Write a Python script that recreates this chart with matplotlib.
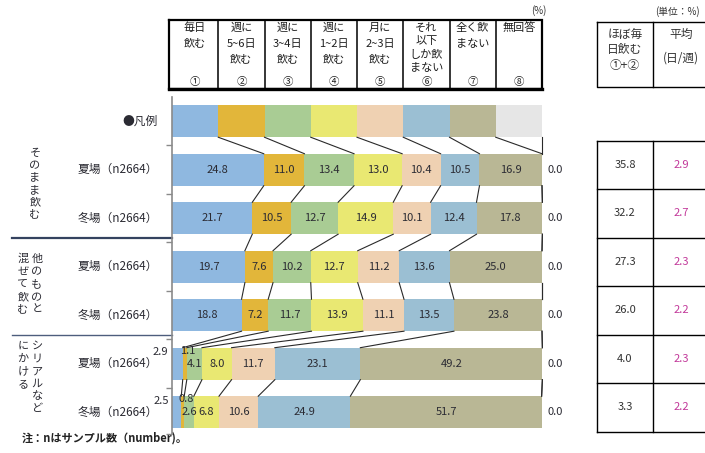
import matplotlib
matplotlib.use("Agg")
import matplotlib.pyplot as plt
from matplotlib import transforms
import numpy as np

plt.rcParams['font.family'] = ['Noto Sans CJK JP', 'DejaVu Sans']

# ---- data -------------------------------------------------------------
answer_labels = [
    ["毎日", "飲む"],
    ["週に", "5~6日", "飲む"],
    ["週に", "3~4日", "飲む"],
    ["週に", "1~2日", "飲む"],
    ["月に", "2~3日", "飲む"],
    ["それ", "以下", "しか飲", "まない"],
    ["全く飲", "まない"],
    ["無回答"],
]
answer_numbers = ["①", "②", "③", "④", "⑤", "⑥", "⑦", "⑧"]

row_labels = ["●凡例", "夏場（n2664）", "冬場（n2664）", "夏場（n2664）",
              "冬場（n2664）", "夏場（n2664）", "冬場（n2664）"]

legend_widths = [12.5, 12.5, 12.5, 12.5, 12.5, 12.5, 12.5, 12.5]
summer_plain = [24.8, 11.0, 13.4, 13.0, 10.4, 10.5, 16.9, 0.0]
winter_plain = [21.7, 10.5, 12.7, 14.9, 10.1, 12.4, 17.8, 0.0]
summer_mixed = [19.7, 7.6, 10.2, 12.7, 11.2, 13.6, 25.0, 0.0]
winter_mixed = [18.8, 7.2, 11.7, 13.9, 11.1, 13.5, 23.8, 0.0]
summer_cereal = [2.9, 1.1, 4.1, 8.0, 11.7, 23.1, 49.2, 0.0]
winter_cereal = [2.5, 0.8, 2.6, 6.8, 10.6, 24.9, 51.7, 0.0]

almost_daily = [35.8, 32.2, 27.3, 26.0, 4.0, 3.3]   # ①+②
avg_days = [2.9, 2.7, 2.3, 2.2, 2.3, 2.2]          # days / week

seg_colors = ["#8fb8e0", "#e2b63a", "#a9cc94", "#e9e872",
              "#efd1b2", "#9bbfd3", "#b9b795", "#e6e6e6"]

rows = [legend_widths, summer_plain, winter_plain, summer_mixed,
        winter_mixed, summer_cereal, winter_cereal]

# ---- figure & axes ----------------------------------------------------
W, H = 705, 453
fig = plt.figure(figsize=(W / 100, H / 100), dpi=100)
fig.patch.set_facecolor("white")

# overlay in pixel units for the framing elements
ov = fig.add_axes([0, 0, 1, 1])
ov.set_xlim(0, W)
ov.set_ylim(H, 0)
ov.axis("off")
ov.patch.set_visible(False)

ax = fig.add_axes([172 / W, 1 - 434 / H, 370 / W, 337 / H])
ax.patch.set_visible(False)
ax.set_xlim(0, 100)
ax.set_ylim(6.45, -0.5)

BAR_H = 0.66
TXT = "#2b2b33"

# x in percent / y in pixels, and x in pixels / y in rows
bx = transforms.blended_transform_factory(ax.transData, ov.transData)
by = transforms.blended_transform_factory(ov.transData, ax.transData)

# ---- stacked bars -----------------------------------------------------
for i, vals in enumerate(rows):
    vals = np.asarray(vals)
    left = np.concatenate([[0.0], np.cumsum(vals)[:-1]])
    ax.barh(i, vals, left=left, height=BAR_H, color=seg_colors,
            linewidth=0, clip_on=False, zorder=2)

# connector lines between consecutive bars
for i in range(len(rows) - 1):
    c0 = np.cumsum(rows[i])
    c1 = np.cumsum(rows[i + 1])
    for k in range(len(c0)):
        ax.plot([c0[k], c1[k]], [i + BAR_H / 2, i + 1 - BAR_H / 2],
                color="#2a2a2a", lw=0.8, clip_on=False, zorder=3)

# value labels
for i, vals in enumerate(rows[1:], start=1):
    vals = np.asarray(vals)
    left = np.concatenate([[0.0], np.cumsum(vals)[:-1]])
    for k, v in enumerate(vals):
        s = f"{v:.1f}"
        if k == len(vals) - 1:
            ax.text(103.5, i, s, ha="center", va="center", fontsize=8,
                    color=TXT, clip_on=False)
        elif k == 0 and v < 5:
            ax.text(-0.9, i - 0.24, s, ha="right", va="center", fontsize=8,
                    color=TXT, clip_on=False, zorder=4)
        elif v < 2:
            ax.text(left[k] + v / 2 + 0.9, i - 0.27, s, ha="center",
                    va="center", fontsize=8, color=TXT, clip_on=False,
                    zorder=4)
        else:
            ax.text(left[k] + v / 2, i, s, ha="center", va="center",
                    fontsize=8, color=TXT, zorder=4)

# ---- axis styling -----------------------------------------------------
for side in ("top", "right", "bottom"):
    ax.spines[side].set_visible(False)
ax.spines["left"].set_color("#8a8a8a")
ax.spines["left"].set_linewidth(1.2)
ax.set_xticks([])
ax.set_yticks([0.5, 1.5, 2.5, 3.5, 4.5, 5.5, 6.45])
ax.set_yticklabels([])
ax.tick_params(axis="y", length=4, width=1.0, color="#8a8a8a",
               direction="out")

# row labels
for i, lab in enumerate(row_labels):
    ax.text(-3.9, i, lab, ha="right", va="center", fontsize=8.5,
            color=TXT, clip_on=False)

# group separators
ov.plot([12, 172], [2.4, 2.4], transform=by, color="#34425f", lw=1.6)
ov.plot([12, 172], [4.4, 4.4], transform=by, color="#4d5d7d", lw=1.0)


def stack(x, y_top, chars, pitch, **kw):
    for j, ch in enumerate(chars):
        ov.text(x, y_top + j * pitch, ch, ha="center", va="center", **kw)


gkw = dict(fontsize=8, color=TXT)
stack(35, 153, "そのまま飲む", 12.3, **gkw)
stack(37, 259, "他のものと", 12.6, **gkw)
stack(23, 259, "混ぜて飲む", 12.6, **gkw)
stack(37, 346, "シリアルなど", 12.6, **gkw)
stack(23, 346, "にかける", 12.6, **gkw)

# ---- column header box ------------------------------------------------
edges = np.concatenate([[0.0], np.cumsum(legend_widths)])
HT, HB = 20, 89
ov.plot([-0.8, 100, 100, -0.8, -0.8], [HT, HT, HB, HB, HT], transform=bx,
        color="black", lw=1.6, solid_joinstyle="miter")
ov.plot([-0.8, 100], [HB, HB], transform=bx, color="black", lw=2.4)
for e in edges[1:-1]:
    ov.plot([e, e], [HT, HB], transform=bx, color="black", lw=1.1)
for k, lines in enumerate(answer_labels):
    xc = (edges[k] + edges[k + 1]) / 2
    pitch = 13.3 if len(lines) == 4 else 15.5
    for j, line in enumerate(lines):
        ov.text(xc, 28 + j * pitch, line, transform=bx, ha="center",
                va="center", fontsize=8, color="#1e1e1e")
    ov.text(xc, 82, answer_numbers[k], transform=bx, ha="center",
            va="center", fontsize=7.5, color="#1e1e1e")
ov.text(546, 11, "(%)", ha="right", va="center", fontsize=7, color="#333333")

# ---- summary table on the right ---------------------------------------
TX = [597, 653, 709]
ov.plot([TX[0], TX[2], TX[2], TX[0], TX[0]], [22, 22, 87, 87, 22],
        color="black", lw=1.0)
ov.plot([TX[1], TX[1]], [22, 87], color="black", lw=1.0)
for j, line in enumerate(["ほぼ毎", "日飲む", "①+②"]):
    ov.text(625, 34 + j * 15.5, line, ha="center", va="center",
            fontsize=8.5, color="#333333")
ov.text(681, 34, "平均", ha="center", va="center", fontsize=8.5,
        color="#333333")
ov.text(681, 58, "(日/週)", ha="center", va="center", fontsize=8.5,
        color="#333333")
ov.text(655, 12, "(単位：%)", ha="left", va="center", fontsize=7,
        color="#333333")

n = len(almost_daily)
for b in range(n + 1):
    yb = b + 0.4
    ov.plot([TX[0], TX[2]], [yb, yb], transform=by, color="black", lw=1.0)
for xv in TX:
    ov.plot([xv, xv], [0.4, n + 0.4], transform=by, color="black", lw=1.0)
for r in range(n):
    yc = r + 1 - 0.1
    ov.text(625, yc, f"{almost_daily[r]:.1f}", transform=by, ha="center",
            va="center", fontsize=8, color="#333333")
    ov.text(681, yc, f"{avg_days[r]:.1f}", transform=by, ha="center",
            va="center", fontsize=8, color="#c2399a")

# ---- footnote ---------------------------------------------------------
ov.text(22, 438, "注：nはサンプル数（number)。", ha="left", va="center",
        fontsize=8, fontweight="bold", color="#222222")

fig.savefig("out.png", dpi=100)
